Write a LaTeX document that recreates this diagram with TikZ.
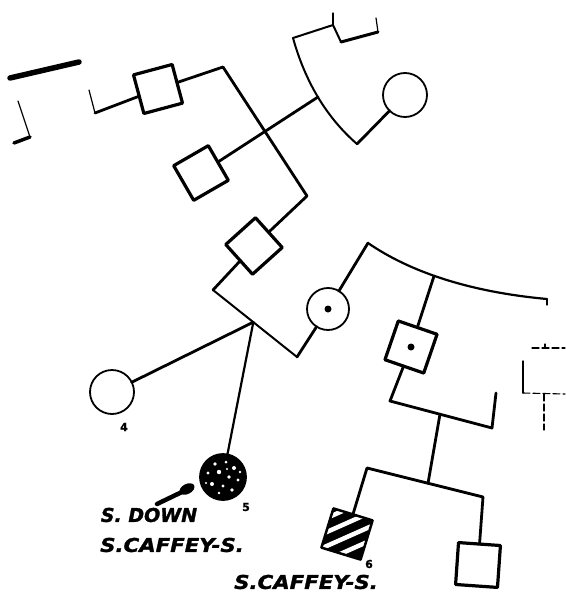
\documentclass[tikz,border=0pt]{standalone}
\usepackage{fontspec}
\newfontfamily\labfont{DejaVu Sans}[BoldItalicFeatures={FakeBold=1.5}, BoldFeatures={FakeBold=1.2}]
\usetikzlibrary{calc}
\tikzset{
  sq/.style={draw, line width=3.2pt, minimum size=40pt, inner sep=0pt, outer sep=0pt},
  ci/.style={draw, circle, line width=1.8pt, minimum size=44pt, inner sep=0pt, outer sep=0pt},
  ln/.style={line width=2.8pt},
  thinln/.style={line width=1.2pt},
  arcln/.style={line width=2pt},
  dashln/.style={line width=1.1pt, dash pattern=on 7pt off 3pt},
  lab/.style={font=\labfont\bfseries\itshape\fontsize{19}{19}\selectfont, inner sep=0pt},
  num/.style={font=\labfont\bfseries\fontsize{11}{11}\selectfont, inner sep=0pt},
}
\begin{document}
\begin{tikzpicture}[x=1pt, y=-1pt, line cap=round, line join=round]
\useasboundingbox (0,0) rectangle (565,602);

% ---- top-left fragments
\coordinate (tl1) at (10,78);
\coordinate (tl2) at (79,62);
\draw[line width=5.5pt] (tl1) -- (tl2);
\coordinate (tl3) at (18,101);
\coordinate (tl4) at (30,137);
\coordinate (tl5) at (14,143);
\draw[thinln] (tl3) -- (tl4);
\draw[line width=3.5pt] (tl5) -- (tl4);

% ---- nodes
\node[sq, rotate=15] (s1) at (158,89) {};
\node[sq, rotate=30] (s2) at (201,173) {};
\node[sq, rotate=42] (s3) at (254,246) {};
\node[ci] (c1) at (405,95) {};
\node[ci, minimum size=42pt] (cd) at (328,309) {};
\fill (cd.center) circle (3.5);
\node[sq, rotate=-19, minimum size=41pt] (sd) at (411,347) {};
\fill (sd.center) circle (3.5);
\node[ci] (c4) at (112,392) {};
\node[ci, fill=black, minimum size=46pt] (c5) at (223,477) {};
\node[sq, draw=none, rotate=-17, minimum size=41pt] (s6) at (347,534) {};
\node[sq, rotate=-4, minimum size=42pt] (s7) at (478,565) {};

% specks in circle 5
\foreach \dx/\dy/\r in {-8/-13/1.8, 3/-15/1.5, 11/-9/2, -15/-4/1.6, -4/-5/2.2, 6/0/1.8, 15/3/1.6, -11/7/2, 0/9/1.6, 9/13/1.8, -4/16/1.4, 17/-5/1.3, -17/6/1.2, 4/-8/1.2}
  \fill[white] ($(c5.center)+(\dx,\dy)$) circle (\r);

% striped square 6
\begin{scope}
  \clip (s6.north west) -- (s6.north east) -- (s6.south east) -- (s6.south west) -- cycle;
  \fill (s6.north west) -- (s6.north east) -- (s6.south east) -- (s6.south west) -- cycle;
  \foreach \o in {-25,-11,3,17}
    \draw[white, line width=4.5pt] ($(s6.center)+(-45,20+\o)$) -- ($(s6.center)+(45,-20+\o)$);
\end{scope}
\draw[line width=2.5pt] (s6.north west) -- (s6.north east) -- (s6.south east) -- (s6.south west) -- cycle;

% ---- upper connectors
\coordinate (j1) at (89,90);
\coordinate (j2) at (95,113);
\draw[thinln] (j1) -- (j2);
\draw[ln] (j2) -- (s1);
\coordinate (j3) at (223,67);
\coordinate (j4) at (307,196);
\draw[ln] (s1) -- (j3) -- (j4) -- (s3);

\coordinate (a1) at (293,38);
\coordinate (a2) at (318,97);
\coordinate (a3) at (357,144);
\draw[arcln] (a1) .. controls (305,81) and (326,117) .. (a3);
\draw[ln] (s2) -- (a2);
\draw[ln] (a3) -- (c1);

\coordinate (t0) at (333,13);
\coordinate (t1) at (333,25);
\coordinate (t2) at (341,42);
\coordinate (t3) at (378,32);
\coordinate (t4) at (376,18);
\draw[arcln] (a1) -- (t1);
\draw[thinln] (t0) -- (t1);
\draw[arcln] (t1) -- (t2);
\draw[line width=3pt] (t2) -- (t3);
\draw[thinln] (t4) -- (t3);

% ---- middle
\coordinate (m1) at (213,290);
\coordinate (m3) at (297,357);
\coordinate (m2) at ($(m1)!0.48!(m3)$);
\draw[ln] (s3) -- (m1);
\draw[arcln] (m1) -- (m3);
\draw[ln] (m3) -- (cd);
\draw[ln] (m2) -- (c4);
\draw[line width=2.2pt] (m2) -- (c5);

\coordinate (b1) at (368,243);
\coordinate (b2) at (434,276);
\coordinate (b3) at (547,299);
\draw[ln] (cd) -- (b1);
\draw[line width=2.2pt] (b1) .. controls (410,272) and (470,292) .. (b3);
\coordinate (b4) at (547,305);
\draw[thinln] (b3) -- (b4);
\draw[ln] (b2) -- (sd);

\coordinate (d1) at (390,401);
\coordinate (d2) at (492,428);
\coordinate (d3) at (496,393);
\draw[ln] (sd) -- (d1) -- (d2) -- (d3);
\coordinate (d4) at ($(d1)!0.49!(d2)$);
\coordinate (e1) at (367,468);
\coordinate (e2) at (483,497);
\coordinate (e0) at ($(e1)!0.526!(e2)$);
\draw[ln] (d4) -- (e0);
\draw[ln] (s6) -- (e1) -- (e2) -- (s7);

% ---- right dashed fragment
\coordinate (r1) at (532,348);
\coordinate (r2) at (565,348);
\coordinate (r3) at (545,344);
\coordinate (r4) at (545,348);
\draw[dashln] (r1) -- (r2);
\draw[thinln] (r3) -- (r4);
\coordinate (r5) at (523,361);
\coordinate (r6) at (523,393);
\coordinate (r7) at (565,394);
\draw[line width=1.4pt] (r5) -- (r6);
\draw[dashln] (r6) -- (r7);
\coordinate (r8) at (544,394);
\coordinate (r9) at (544,430);
\draw[dashln] (r8) -- (r9);

% ---- smudge arrow
\coordinate (sm1) at (157,504);
\coordinate (sm2) at (184,491);
\draw[line width=4.5pt] (sm1) -- (sm2);
\fill[rotate around={27:(187,489)}] (187,489) ellipse (8 and 5);

% ---- labels
\node[num] (l4) at (124,427) {4};
\node[num] (l5) at (246,507) {5};
\node[num] (l6) at (369,564) {6};
\node[lab] (down) at (149,515) {S. DOWN};
\node[lab, xscale=1.12] (caf1) at (172,545) {S.CAFFEY-S.};
\node[lab, xscale=1.12] (caf2) at (306,582) {S.CAFFEY-S.};
\end{tikzpicture}
\end{document}
